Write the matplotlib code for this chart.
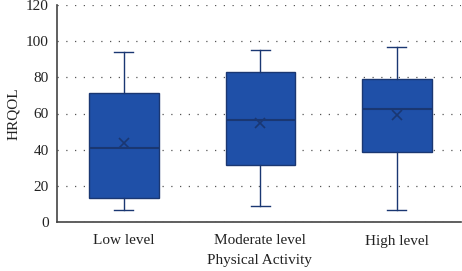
import numpy as np
import matplotlib.pyplot as plt

plt.rcParams['font.family'] = ['Liberation Serif', 'DejaVu Serif']

# data
groups = ["Low level", "Moderate level", "High level"]
whislo = [6.6, 9.0, 6.6]
q1 = [13.4, 31.5, 38.5]
med = [41.1, 56.2, 62.7]
q3 = [71.4, 82.8, 79.3]
whishi = [94.2, 95.1, 97.0]
means = [43.5, 54.9, 59.2]

stats = []
for i in range(len(groups)):
    stats.append({"label": groups[i], "whislo": whislo[i], "q1": q1[i], "med": med[i],
                  "q3": q3[i], "whishi": whishi[i], "mean": means[i], "fliers": []})

fig = plt.figure(figsize=(4.62, 2.71), dpi=100)
ax = fig.add_axes([57/462, 49/271, 404/462, 217/271])

fill = "#1f50a8"
dark = "#1a3772"
ax.bxp(stats, positions=range(3), widths=0.51, patch_artist=True, showmeans=True,
       boxprops=dict(facecolor=fill, edgecolor=dark, linewidth=1.0),
       medianprops=dict(color=dark, linewidth=1.5),
       whiskerprops=dict(color=dark, linewidth=1.0),
       capprops=dict(color=dark, linewidth=1.0),
       meanprops=dict(marker="x", markeredgecolor=dark, markersize=7, markeredgewidth=1.2),
       capwidths=0.14, zorder=3)

ax.set_xlim(-0.49, 2.47)
ax.set_ylim(0, 120)
ax.set_yticks(range(0, 121, 20))
ax.yaxis.grid(True, linestyle=(0, (1, 6)), color="#555555", linewidth=0.9)
ax.set_axisbelow(True)
for s in ["top", "right"]:
    ax.spines[s].set_visible(False)
ax.spines["left"].set_color("#444444")
ax.spines["bottom"].set_color("#444444")
ax.spines["left"].set_linewidth(1.2)
ax.spines["bottom"].set_linewidth(1.2)
ax.tick_params(length=0, labelsize=11, colors="#222222")
ax.tick_params(axis="x", pad=9)
ax.tick_params(axis="y", pad=6)
ax.set_ylabel("HRQOL", fontsize=11, labelpad=4, color="#222222")
ax.set_xlabel("Physical Activity", fontsize=11, labelpad=5, color="#222222")

fig.savefig("out.png", dpi=100)
